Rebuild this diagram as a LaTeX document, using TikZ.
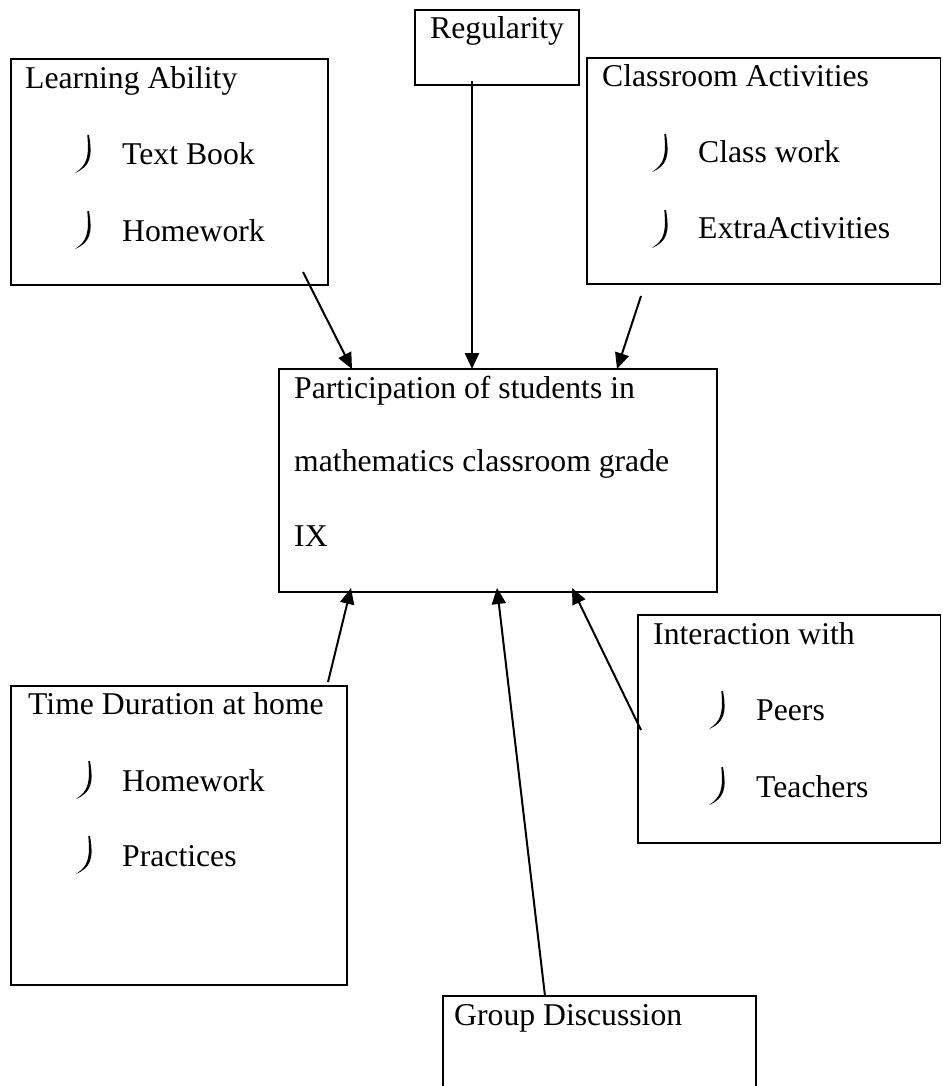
\documentclass[tikz,border=0pt]{standalone}
\usepackage{fontspec}
\setmainfont{Liberation Serif}
\usetikzlibrary{arrows.meta,fit,calc}
\begin{document}
\begin{tikzpicture}[x=1pt,y=-1pt,
  box/.style={draw, line width=1.2pt, inner sep=0pt, outer sep=0pt},
  lbl/.style={anchor=base west, inner sep=0pt, font=\fontsize{31.7}{38}\selectfont},
  conn/.style={line width=2pt, -{Triangle[length=16pt,width=14pt]}},
  bmark/.pic={\fill (14,0) .. controls (17.8,22) and (15.2,31.5) .. (0,38)
      .. controls (12.2,30) and (14.2,22) .. (12.3,0) -- cycle;}]
\useasboundingbox (0,0) rectangle (942,1086);
\clip (0,0) rectangle (942,1086);
% boxes
\node[box, fit={(11,59) (328,285)}] (la) {};
\node[box, fit={(415,10) (579,85)}] (reg) {};
\node[box, fit={(587,58) (940.6,284)}] (ca) {};
\node[box, fit={(279,369) (717,592)}] (main) {};
\node[box, fit={(11,686) (347,985)}] (td) {};
\node[box, fit={(638,615) (940.6,843)}] (iw) {};
\node[box, fit={(443,996) (756,1110)}] (gd) {};
% texts
\node[lbl] (laT) at (25,89) {Learning Ability};
\pic (laB1) at (75,135) {bmark};
\node[lbl] (laI1) at (122,165) {Text Book};
\pic (laB2) at (75,211) {bmark};
\node[lbl] (laI2) at (122,241) {Homework};
\node[lbl] (regT) at (430,39) {Regularity};
\node[lbl] (caT) at (602,87) {Classroom Activities};
\pic (caB1) at (652,134) {bmark};
\node[lbl] (caI1) at (698,163) {Class work};
\pic (caB2) at (652,210) {bmark};
\node[lbl] (caI2) at (698,238) {ExtraActivities};
\node[lbl] (m1) at (294,398) {Participation of students in};
\node[lbl] (m2) at (294,471) {mathematics classroom grade};
\node[lbl] (m3) at (294,546) {IX};
\node[lbl] (tdT) at (28,714) {Time Duration at home};
\pic (tdB1) at (76,761) {bmark};
\node[lbl] (tdI1) at (122,791) {Homework};
\pic (tdB2) at (76,836) {bmark};
\node[lbl] (tdI2) at (122,866) {Practices};
\node[lbl] (iwT) at (653,644) {Interaction with};
\pic (iwB1) at (709,691) {bmark};
\node[lbl] (iwI1) at (756,720) {Peers};
\pic (iwB2) at (709,767) {bmark};
\node[lbl] (iwI2) at (756,797) {Teachers};
\node[lbl] (gdT) at (454,1025) {Group Discussion};
% connector ends
\coordinate (laOut) at ($(la.south east)+(-25,-13)$);
\coordinate (regOut) at ($(reg.south west)+(57,-4)$);
\coordinate (caOut) at ($(ca.south west)+(54,12)$);
\coordinate (tdOut) at ($(td.north west)+(317,-4)$);
\coordinate (iwOut) at ($(iw.north west)+(3,115)$);
\coordinate (gdOut) at ($(gd.north west)+(102,0)$);
\coordinate (mIn1) at ($(main.north west)+(73,0)$);
\coordinate (mIn2) at ($(main.north west)+(193,0)$);
\coordinate (mIn3) at ($(main.north west)+(338,0)$);
\coordinate (mIn4) at ($(main.south west)+(72,-4)$);
\coordinate (mIn5) at ($(main.south west)+(218,-4)$);
\coordinate (mIn6) at ($(main.south west)+(293,-4)$);
% connectors
\draw[conn] (laOut) -- (mIn1);
\draw[conn, line width=2.6pt] (regOut) -- (mIn2);
\draw[conn] (caOut) -- (mIn3);
\draw[conn] (tdOut) -- (mIn4);
\draw[conn] (gdOut) -- (mIn5);
\draw[conn] (iwOut) -- (mIn6);
\end{tikzpicture}
\end{document}
